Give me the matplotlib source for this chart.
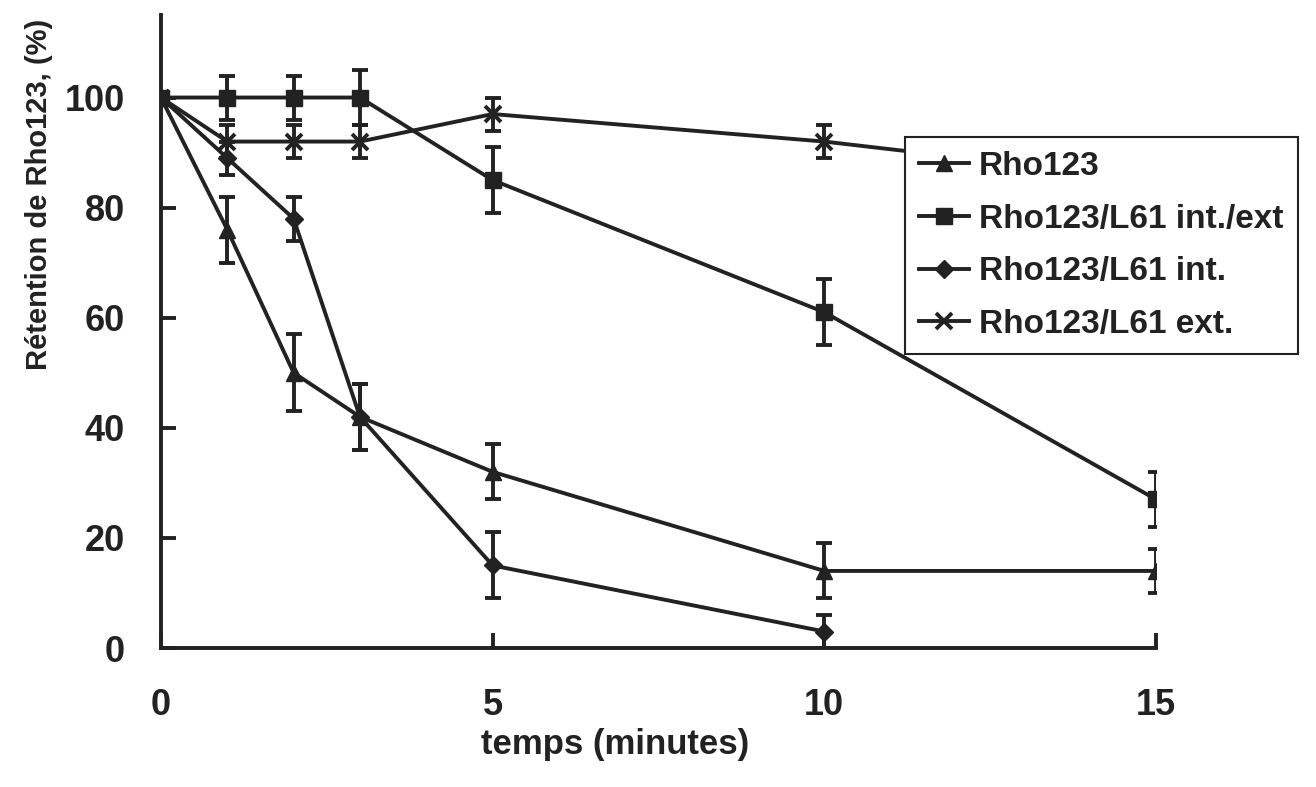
import matplotlib
matplotlib.use("Agg")
import matplotlib.pyplot as plt

plt.rcParams['font.family'] = ['Liberation Sans', 'DejaVu Sans']

time = [0, 1, 2, 3, 5, 10, 15]

rho = [100, 76, 50, 42, 32, 14, 14]
rho_err = [0, 6, 7, 6, 5, 5, 4]

intext = [100, 100, 100, 100, 85, 61, 27]
intext_err = [0, 4, 4, 5, 6, 6, 5]

t_int = [0, 1, 2, 3, 5, 10]
l_int = [100, 89, 78, 42, 15, 3]
l_int_err = [0, 3, 4, 6, 6, 3]

ext = [100, 92, 92, 92, 97, 92, 85]
ext_err = [0, 3, 3, 3, 3, 3, 3]

labels = ["Rho123", "Rho123/L61 int./ext", "Rho123/L61 int.", "Rho123/L61 ext."]
xticks = [0, 5, 10, 15]
yticks = [0, 20, 40, 60, 80, 100]

col = '#222222'
fig = plt.figure(figsize=(13.16, 7.87), dpi=100)
ax = fig.add_axes([0.1223, 0.1766, 0.7561, 0.8044])

common = dict(color=col, lw=2.8, capsize=6, capthick=2.8, elinewidth=2.8)
h1 = ax.errorbar(time, rho, yerr=rho_err, marker='^', ms=12, label=labels[0], **common)
h2 = ax.errorbar(time, intext, yerr=intext_err, marker='s', ms=12, label=labels[1], **common)
h3 = ax.errorbar(t_int, l_int, yerr=l_int_err, marker='D', ms=9, label=labels[2], **common)
h4 = ax.errorbar(time, ext, yerr=ext_err, marker='x', ms=12, mew=2.8, label=labels[3], **common)

ax.set_xlim(0, 15)
ax.set_ylim(0, 115)
ax.set_xticks(xticks)
ax.set_yticks(yticks)
for s in ['top', 'right']:
    ax.spines[s].set_visible(False)
for s in ['left', 'bottom']:
    ax.spines[s].set_linewidth(2.8)
    ax.spines[s].set_color(col)
ax.tick_params(direction='in', length=11, width=2.8, color=col, labelsize=26)
for lab in ax.get_xticklabels() + ax.get_yticklabels():
    lab.set_fontweight('bold')
    lab.set_color(col)
ax.tick_params(axis='y', pad=26)
ax.tick_params(axis='x', pad=29)

ax.set_xlabel("temps (minutes)", fontsize=25, fontweight='bold', color=col)
ax.xaxis.set_label_coords(0.456, -0.127)
ax.set_ylabel("Rétention de Rho123, (%)", fontsize=21, fontweight='bold', color=col)
ax.yaxis.set_label_coords(-0.108, 0.716)

leg = fig.legend(handles=[h1[0], h2[0], h3[0], h4[0]], labels=labels, loc='upper left',
                 bbox_to_anchor=(0.6877, 0.826), bbox_transform=fig.transFigure,
                 prop={'size': 24, 'weight': 'bold'}, frameon=True, fancybox=False,
                 edgecolor=col, framealpha=1, borderaxespad=0, handlelength=1.5,
                 handletextpad=0.3, labelspacing=0.65, borderpad=0.42)
leg.get_frame().set_linewidth(1.5)
for t in leg.get_texts():
    t.set_color(col)

fig.savefig("out.png", dpi=100)
